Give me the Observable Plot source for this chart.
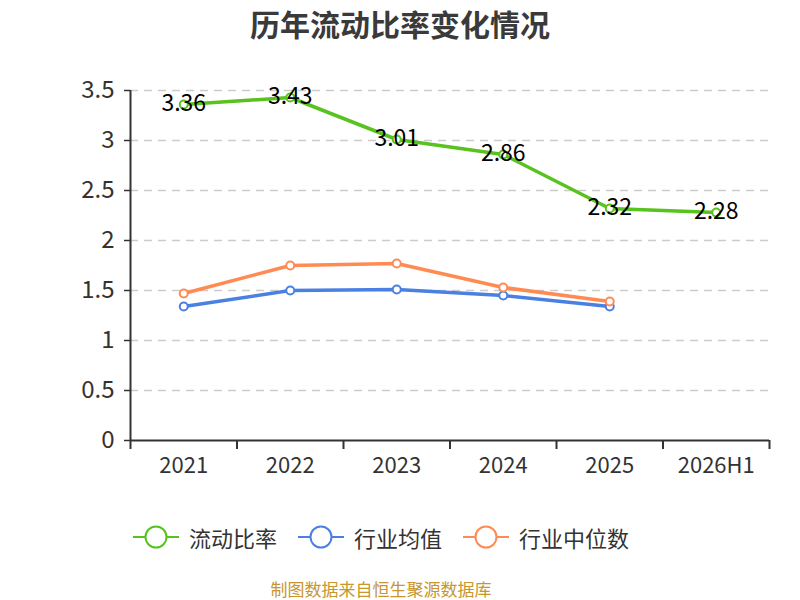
<!DOCTYPE html>
<html>
<head>
<meta charset="utf-8">
<script src="https://cdn.jsdelivr.net/npm/d3@7"></script>
<script src="https://cdn.jsdelivr.net/npm/@observablehq/plot@0.6"></script>
<style>
  html, body { margin: 0; padding: 0; background: #fff; }
  body { width: 800px; height: 600px; position: relative; overflow: hidden;
         font-family: "Noto Sans CJK SC", sans-serif; }
  #title { position: absolute; left: 0; top: 0; width: 800px; height: 46px; line-height: 46px;
           text-align: center; font-size: 30px; font-weight: bold; color: #3a3a3a; }
  #chart { position: absolute; left: 0; top: 50px; }
  #legend { position: absolute; left: 133px; top: 522px; height: 30px; display: flex; align-items: center; }
  .item { display: flex; align-items: center; margin-right: 21px; font-size: 22px; color: #333; }
  .item svg { margin-right: 10px; }
  #footer { position: absolute; left: 181px; top: 579px; width: 400px; height: 20px; text-align: center; white-space: nowrap;
            font-size: 17px; color: #c8962e; line-height: 20px; }
</style>
</head>
<body>
<div id="title">历年流动比率变化情况</div>
<div id="chart"></div>
<div id="legend"></div>
<div id="footer">制图数据来自恒生聚源数据库</div>
<script>
const categories = ["2021", "2022", "2023", "2024", "2025", "2026H1"];
const currentRatio = [3.36, 3.43, 3.01, 2.86, 2.32, 2.28];
const industryMean = [1.34, 1.50, 1.51, 1.45, 1.34];
const industryMedian = [1.47, 1.75, 1.77, 1.53, 1.39];
const yTicks = [0, 0.5, 1, 1.5, 2, 2.5, 3, 3.5];
const seriesNames = ["流动比率", "行业均值", "行业中位数"];
const seriesColors = ["#58c21e", "#4a80e2", "#ff8a52"];

const idx = categories.map((_, i) => i);
const bounds = categories.map((_, i) => i - 0.5).concat([categories.length - 0.5]);
const xDomain = [bounds[0], bounds[bounds.length - 1]];

const rows = (vals, s) => vals.map((v, i) => ({x: i, y: v, s}));
const green = rows(currentRatio, 0);
const blue = rows(industryMean, 1);
const orange = rows(industryMedian, 2);

const font = "'Noto Sans CJK SC', sans-serif";

const chart = Plot.plot({
  width: 800,
  height: 450,
  marginTop: 40,
  marginBottom: 60,
  marginLeft: 130,
  marginRight: 31,
  style: {fontFamily: font, fontSize: "23px", color: "#333", background: "transparent", overflow: "visible"},
  x: {type: "linear", domain: xDomain},
  y: {domain: [0, 3.5]},
  marks: [
    Plot.gridY(yTicks.slice(1), {stroke: "#cccccc", strokeOpacity: 1, strokeWidth: 1.5, strokeDasharray: "8,6"}),
    Plot.axisY(yTicks, {tickSize: 6, tickPadding: 10, tickFormat: d => `${d}`, stroke: "#333", strokeWidth: 1.5, fill: "#333", label: null, fontSize: 24}),
    Plot.axisX(bounds, {tickSize: 9, tickFormat: () => "", stroke: "#333", strokeWidth: 2, label: null}),
    Plot.axisX(idx, {tickSize: 0, tickPadding: 17, tickFormat: i => categories[i], fill: "#333", label: null, fontSize: 22}),
    Plot.ruleX([xDomain[0]], {stroke: "#333", strokeWidth: 2}),
    Plot.ruleY([0], {stroke: "#333", strokeWidth: 2}),
    Plot.line(green, {x: "x", y: "y", stroke: seriesColors[0], strokeWidth: 3.5}),
    Plot.dot(green, {x: "x", y: "y", r: 4, fill: "#fff", stroke: seriesColors[0], strokeWidth: 2}),
    Plot.line(blue, {x: "x", y: "y", stroke: seriesColors[1], strokeWidth: 3.5}),
    Plot.dot(blue, {x: "x", y: "y", r: 4, fill: "#fff", stroke: seriesColors[1], strokeWidth: 2}),
    Plot.line(orange, {x: "x", y: "y", stroke: seriesColors[2], strokeWidth: 3.5}),
    Plot.dot(orange, {x: "x", y: "y", r: 4, fill: "#fff", stroke: seriesColors[2], strokeWidth: 2}),
    Plot.text(green, {x: "x", y: "y", text: d => `${d.y}`, fill: "#000", fontSize: 23, dy: -1})
  ]
});
document.getElementById("chart").appendChild(chart);

const legend = document.getElementById("legend");
seriesNames.forEach((name, i) => {
  const item = document.createElement("div");
  item.className = "item";
  const c = seriesColors[i];
  item.innerHTML = `<svg width="46" height="26" viewBox="0 0 46 26">
    <line x1="0" y1="13" x2="46" y2="13" stroke="${c}" stroke-width="2"/>
    <circle cx="23" cy="13" r="10.5" fill="#fff" stroke="${c}" stroke-width="2"/>
  </svg><span>${name}</span>`;
  legend.appendChild(item);
});
</script>
</body>
</html>
